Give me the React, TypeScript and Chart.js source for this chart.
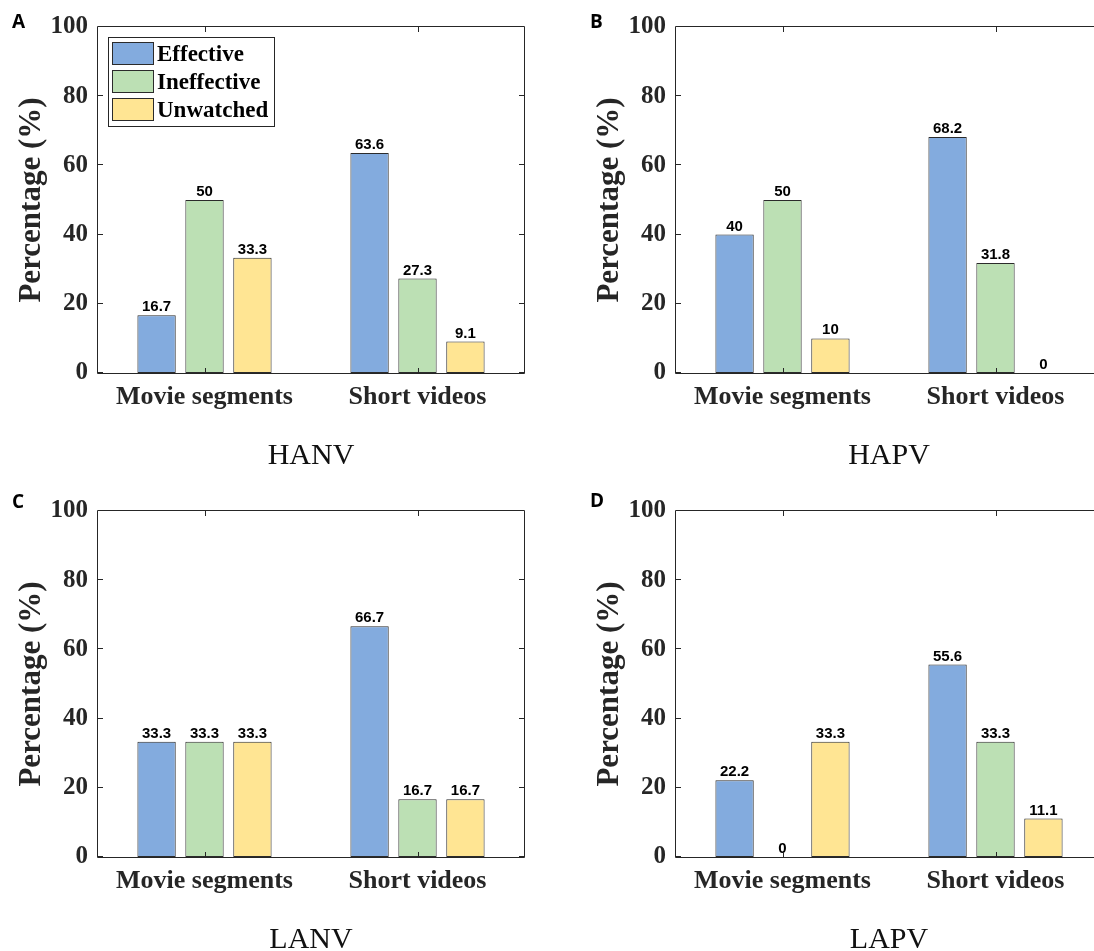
import React, { useEffect, useRef } from "react";
import { Chart, registerables } from "chart.js";

Chart.register(...registerables);

// ---------- data ----------
const categories = ["Movie segments", "Short videos"];
const seriesNames = ["Effective", "Ineffective", "Unwatched"];
const seriesColors = ["#83abde", "#bce0b4", "#ffe593"];
const yTicks = [0, 20, 40, 60, 80, 100];

const hanvEffective = [16.7, 63.6];
const hanvIneffective = [50, 27.3];
const hanvUnwatched = [33.3, 9.1];

const hapvEffective = [40, 68.2];
const hapvIneffective = [50, 31.8];
const hapvUnwatched = [10, 0];

const lanvEffective = [33.3, 66.7];
const lanvIneffective = [33.3, 16.7];
const lanvUnwatched = [33.3, 16.7];

const lapvEffective = [22.2, 55.6];
const lapvIneffective = [0, 33.3];
const lapvUnwatched = [33.3, 11.1];

const panelTitles = ["HANV", "HAPV", "LANV", "LAPV"];
const panelLetters = ["A", "B", "C", "D"];
const yAxisTitle = "Percentage (%)";

// ---------- layout / style ----------
const SERIF = '"Liberation Serif", "Times New Roman", serif';
const SANS = '"Liberation Sans", Arial, sans-serif';
const AXIS_COLOR = "#262626";
const BAR_EDGE = "#2b2b2b";
const CANVAS_W = 547;
const CANVAS_H = 475;

type PanelCfg = {
  letter: string;
  title: string;
  values: number[][];
  left: number;
  top: number;
  legend: boolean;
  letterY: number;
};

const panels: PanelCfg[] = [
  { letter: panelLetters[0], title: panelTitles[0], values: [hanvEffective, hanvIneffective, hanvUnwatched], left: 0, top: 0, legend: true, letterY: 28 },
  { letter: panelLetters[1], title: panelTitles[1], values: [hapvEffective, hapvIneffective, hapvUnwatched], left: 578, top: 0, legend: false, letterY: 28 },
  { letter: panelLetters[2], title: panelTitles[2], values: [lanvEffective, lanvIneffective, lanvUnwatched], left: 0, top: 484, legend: false, letterY: 24 },
  { letter: panelLetters[3], title: panelTitles[3], values: [lapvEffective, lapvIneffective, lapvUnwatched], left: 578, top: 484, legend: false, letterY: 23 },
];

function fmt(v: number) {
  return String(v);
}

const framePlugin = {
  id: "matlabFrame",
  afterDatasetsDraw(chart: any, _args: any, opts: any) {
    const { ctx, chartArea } = chart;
    const { left, top, right, bottom } = chartArea;
    const x = chart.scales.x;
    const y = chart.scales.y;
    ctx.save();

    // data labels
    ctx.fillStyle = "#000";
    ctx.font = `bold 15px ${SANS}`;
    ctx.textAlign = "center";
    ctx.textBaseline = "alphabetic";
    chart.data.datasets.forEach((ds: any, di: number) => {
      const meta = chart.getDatasetMeta(di);
      meta.data.forEach((el: any, i: number) => {
        ctx.fillText(fmt(ds.data[i]), el.x, el.y - 4);
      });
    });

    // box
    ctx.strokeStyle = AXIS_COLOR;
    ctx.lineWidth = 1;
    ctx.beginPath();
    ctx.rect(left - 0.5, top - 0.5, right - left + 1, bottom - top + 1);
    ctx.stroke();

    // inward ticks
    const TL = 5;
    ctx.beginPath();
    yTicks.forEach((v) => {
      const py = Math.round(y.getPixelForValue(v)) - 0.5;
      ctx.moveTo(left, py);
      ctx.lineTo(left + TL, py);
      ctx.moveTo(right, py);
      ctx.lineTo(right - TL, py);
    });
    categories.forEach((_c, i) => {
      const px = Math.round(x.getPixelForValue(i)) + 0.5;
      ctx.moveTo(px, bottom);
      ctx.lineTo(px, bottom - TL);
      ctx.moveTo(px, top);
      ctx.lineTo(px, top + TL);
    });
    ctx.stroke();

    // legend inside panel A
    if (opts.legend) {
      const bx = 108, by = 37, bw = 166, bh = 89;
      ctx.fillStyle = "#fff";
      ctx.fillRect(bx, by, bw, bh);
      ctx.strokeStyle = AXIS_COLOR;
      ctx.strokeRect(bx + 0.5, by + 0.5, bw, bh);
      seriesNames.forEach((name, i) => {
        const sy = 42 + i * 28;
        ctx.fillStyle = seriesColors[i];
        ctx.fillRect(112, sy, 41, 22);
        ctx.strokeStyle = BAR_EDGE;
        ctx.strokeRect(112.5, sy + 0.5, 41, 22);
        ctx.fillStyle = "#000";
        ctx.font = `bold 23px ${SERIF}`;
        ctx.textAlign = "left";
        ctx.textBaseline = "alphabetic";
        ctx.fillText(name, 157, sy + 19);
      });
    }

    // panel letter
    ctx.fillStyle = "#000";
    ctx.font = `bold 19px "Open Sans", ${SANS}`;
    ctx.textAlign = "left";
    ctx.textBaseline = "alphabetic";
    ctx.fillText(opts.letter, 12, opts.letterY);

    ctx.restore();
  },
};

function Panel({ cfg }: { cfg: PanelCfg }) {
  const ref = useRef<HTMLCanvasElement>(null);
  useEffect(() => {
    if (!ref.current) return;
    const chart = new Chart(ref.current, {
      type: "bar",
      data: {
        labels: categories,
        datasets: seriesNames.map((n, i) => ({
          label: n,
          data: cfg.values[i],
          backgroundColor: seriesColors[i],
          borderColor: BAR_EDGE,
          borderWidth: 1,
          borderSkipped: false,
          categoryPercentage: 0.675,
          barPercentage: 0.8,
        })),
      },
      options: {
        responsive: false,
        animation: false,
        devicePixelRatio: 1,
        layout: { padding: { top: 27, right: 23, left: 0, bottom: 0 } },
        plugins: {
          legend: { display: false },
          tooltip: { enabled: false },
          matlabFrame: { legend: cfg.legend, letter: cfg.letter, letterY: cfg.letterY },
        } as any,
        scales: {
          x: {
            grid: { display: false, drawTicks: false },
            border: { display: false },
            ticks: {
              color: AXIS_COLOR,
              font: { family: SERIF, size: 26, weight: "bold" },
              padding: 9,
              maxRotation: 0,
              autoSkip: false,
            },
            title: {
              display: true,
              text: cfg.title,
              color: "#111",
              font: { family: SERIF, size: 30, weight: "normal" },
              padding: { top: 0, bottom: 1 },
            },
            afterFit: (s: any) => {
              s.height = 102;
            },
          },
          y: {
            min: 0,
            max: 100,
            grid: { display: false, drawTicks: false },
            border: { display: false },
            ticks: {
              stepSize: 20,
              color: AXIS_COLOR,
              font: { family: SERIF, size: 25, weight: "bold" },
              padding: 10,
            },
            title: {
              display: true,
              text: yAxisTitle,
              color: AXIS_COLOR,
              font: { family: SERIF, size: 31, weight: "bold" },
              padding: { top: 13, bottom: 0 },
            },
            afterFit: (s: any) => {
              s.width = 98;
            },
          },
        },
      } as any,
      plugins: [framePlugin as any],
    });
    return () => chart.destroy();
  }, [cfg]);

  return (
    <canvas
      ref={ref}
      width={CANVAS_W}
      height={CANVAS_H}
      style={{ position: "absolute", left: cfg.left, top: cfg.top, width: CANVAS_W, height: CANVAS_H }}
    />
  );
}

export default function App() {
  return (
    <div
      style={{
        position: "fixed",
        left: 0,
        top: 0,
        width: 1094,
        height: 951,
        overflow: "hidden",
        background: "#fff",
      }}
    >
      {panels.map((p) => (
        <Panel key={p.letter} cfg={p} />
      ))}
    </div>
  );
}
